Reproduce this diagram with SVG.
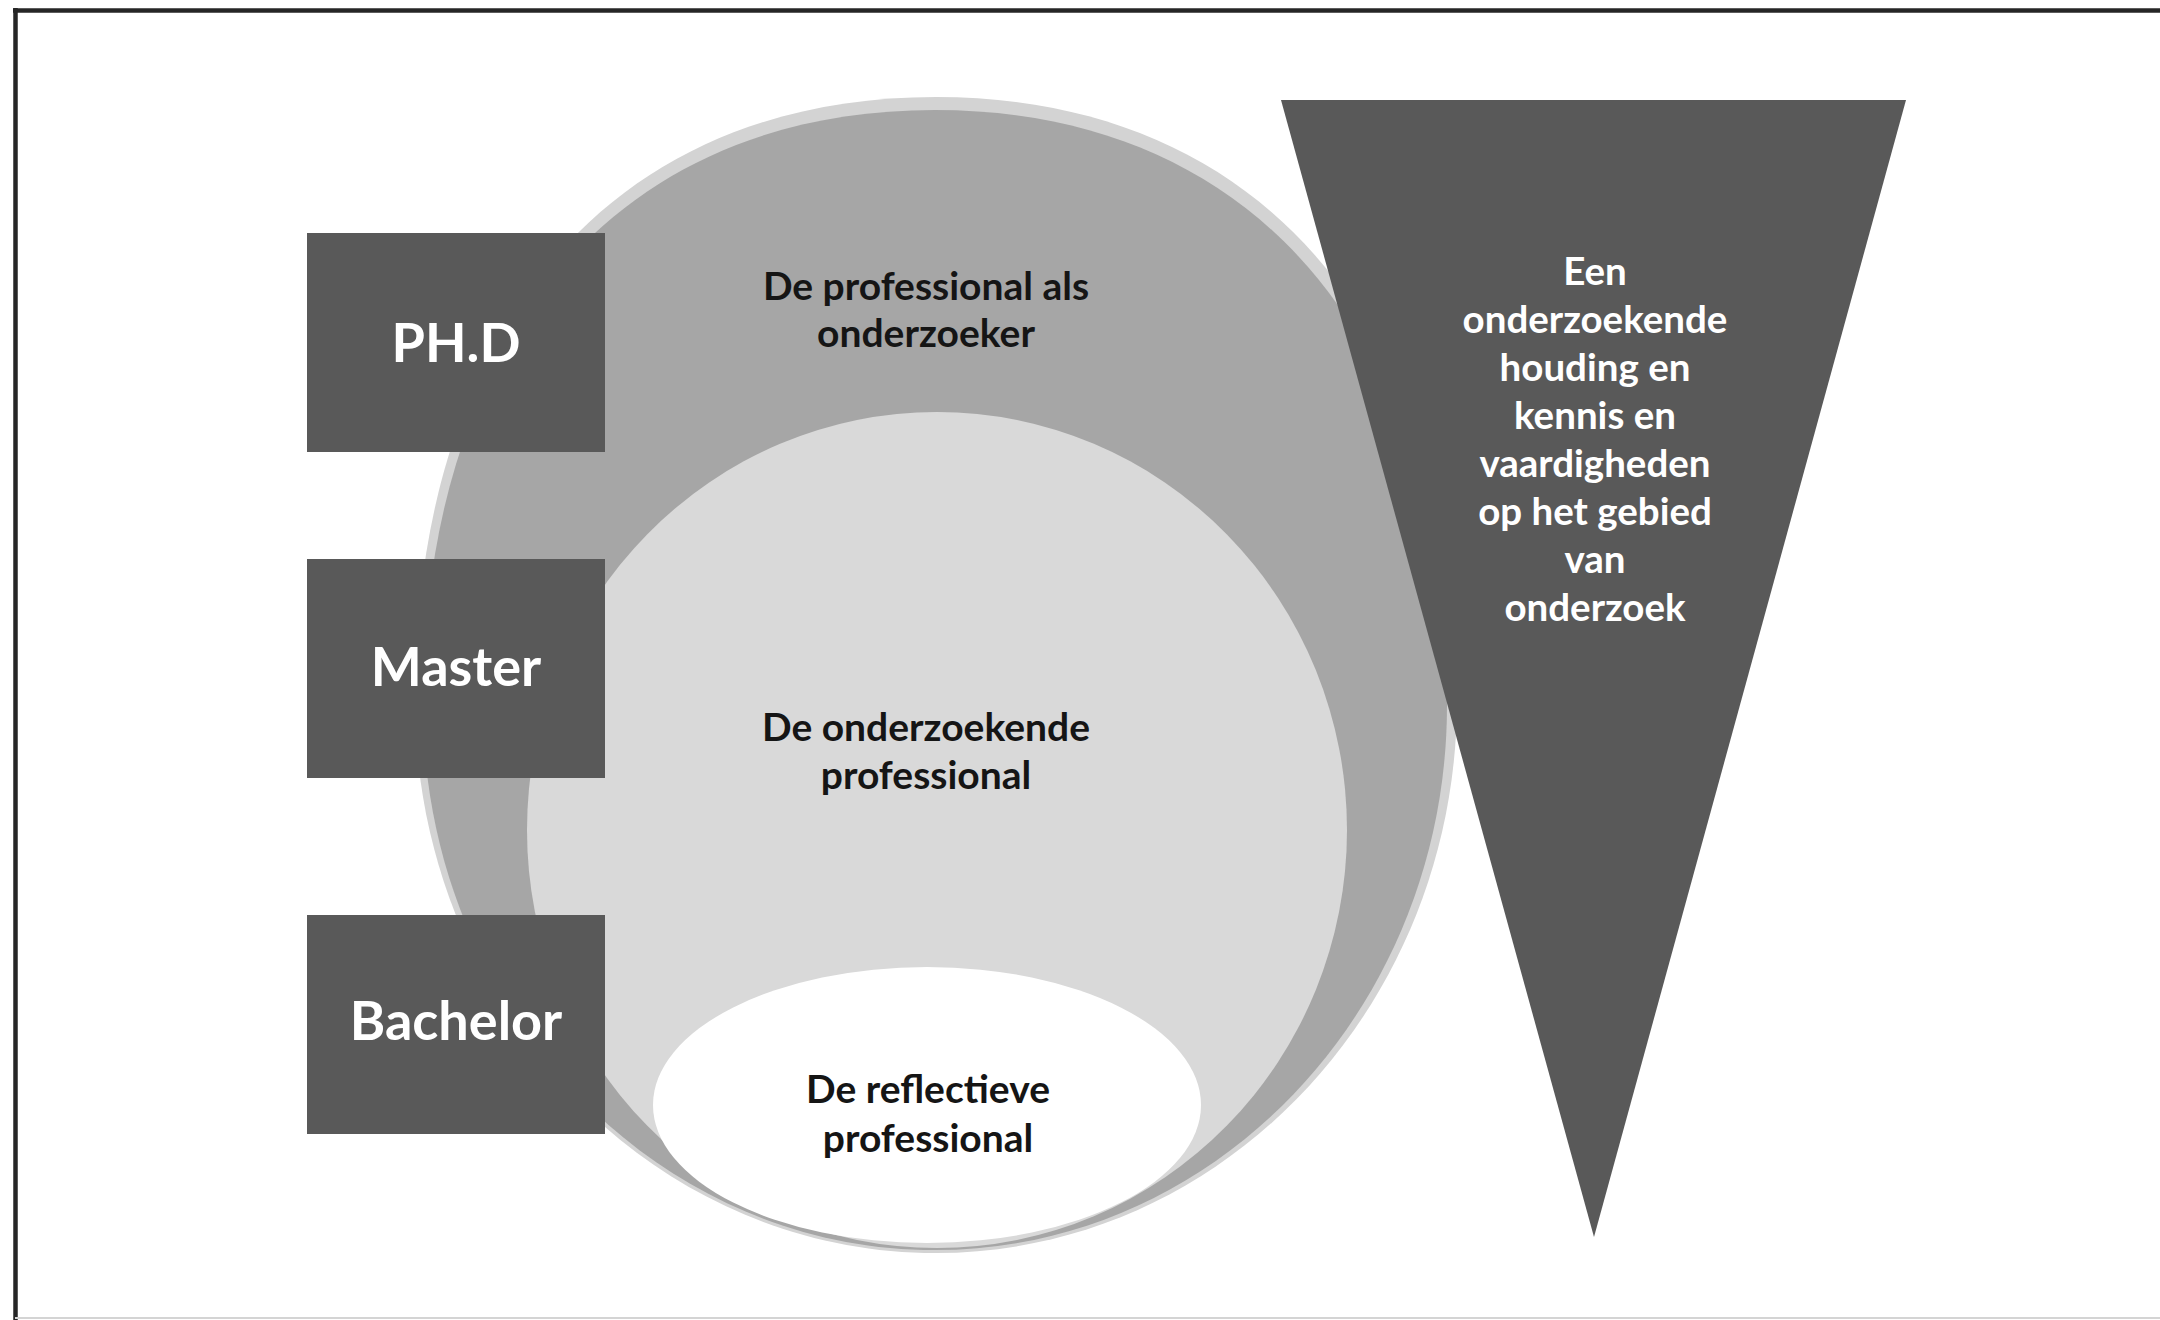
<svg xmlns="http://www.w3.org/2000/svg" width="2160" height="1320" viewBox="0 0 2160 1320">
  <style>
    .box { fill: #595959; }
    .box-label { font-family: Lato, "Open Sans", "Liberation Sans", sans-serif; font-weight: 700; font-size: 54px; fill: #ffffff; text-anchor: middle; }
    .ring-label { font-family: Lato, "Open Sans", "Liberation Sans", sans-serif; font-weight: 700; font-size: 39px; fill: #151515; text-anchor: middle; }
    .wedge-label { font-family: Lato, "Open Sans", "Liberation Sans", sans-serif; font-weight: 700; font-size: 38.5px; fill: #ffffff; text-anchor: middle; }
  </style>

  <!-- page background and frame -->
  <rect x="0" y="0" width="2160" height="1320" fill="#ffffff"/>
  <g id="frame" fill="none">
    <line x1="13" y1="10.5" x2="2160" y2="10.5" stroke="#262626" stroke-width="4.5"/>
    <line x1="15.5" y1="8" x2="15.5" y2="1320" stroke="#262626" stroke-width="4.5"/>
    <line x1="15" y1="1318" x2="2160" y2="1318" stroke="#d4d4d4" stroke-width="2"/>
  </g>

  <!-- stacked levels, all resting on the same bottom point -->
  <g id="node-onderzoeker">
    <path d="M 936,97 C 1259,97 1457,326 1457,700 C 1457,1005 1224,1253 936,1253 C 648,1253 415,1005 415,700 C 415,326 613,97 936,97 Z" fill="#d3d3d3"/>
    <path d="M 935,110 C 1252,110 1447,336 1447,705 C 1447,1006 1218,1250 935,1250 C 652,1250 423,1006 423,705 C 423,336 618,110 935,110 Z" fill="#a6a6a6"/>
    <text class="ring-label" x="926" y="300">De professional als</text>
    <text class="ring-label" x="926" y="347">onderzoeker</text>
  </g>

  <g id="node-onderzoekende">
    <ellipse cx="937" cy="830" rx="410" ry="418" fill="#d9d9d9"/>
    <text class="ring-label" x="926" y="741">De onderzoekende</text>
    <text class="ring-label" x="926" y="789">professional</text>
  </g>

  <g id="node-reflectieve">
    <ellipse cx="927" cy="1105" rx="274" ry="138" fill="#ffffff"/>
    <text class="ring-label" x="928" y="1103">De reflectieve</text>
    <text class="ring-label" x="928" y="1152">professional</text>
  </g>

  <!-- degree levels -->
  <g id="node-phd">
    <rect class="box" x="307" y="233" width="298" height="219"/>
    <text class="box-label" x="456" y="362">PH.D</text>
  </g>
  <g id="node-master">
    <rect class="box" x="307" y="559" width="298" height="219"/>
    <text class="box-label" x="456" y="686">Master</text>
  </g>
  <g id="node-bachelor">
    <rect class="box" x="307" y="915" width="298" height="219"/>
    <text class="box-label" x="456" y="1040">Bachelor</text>
  </g>

  <!-- research attitude wedge -->
  <g id="node-houding">
    <polygon points="1281,100 1906,100 1594,1237" fill="#595959"/>
    <text class="wedge-label" x="1595" y="285">Een</text>
    <text class="wedge-label" x="1595" y="333">onderzoekende</text>
    <text class="wedge-label" x="1595" y="381">houding en</text>
    <text class="wedge-label" x="1595" y="429">kennis en</text>
    <text class="wedge-label" x="1595" y="477">vaardigheden</text>
    <text class="wedge-label" x="1595" y="525">op het gebied</text>
    <text class="wedge-label" x="1595" y="573">van</text>
    <text class="wedge-label" x="1595" y="621">onderzoek</text>
  </g>

  <g id="connectors"/>
</svg>
